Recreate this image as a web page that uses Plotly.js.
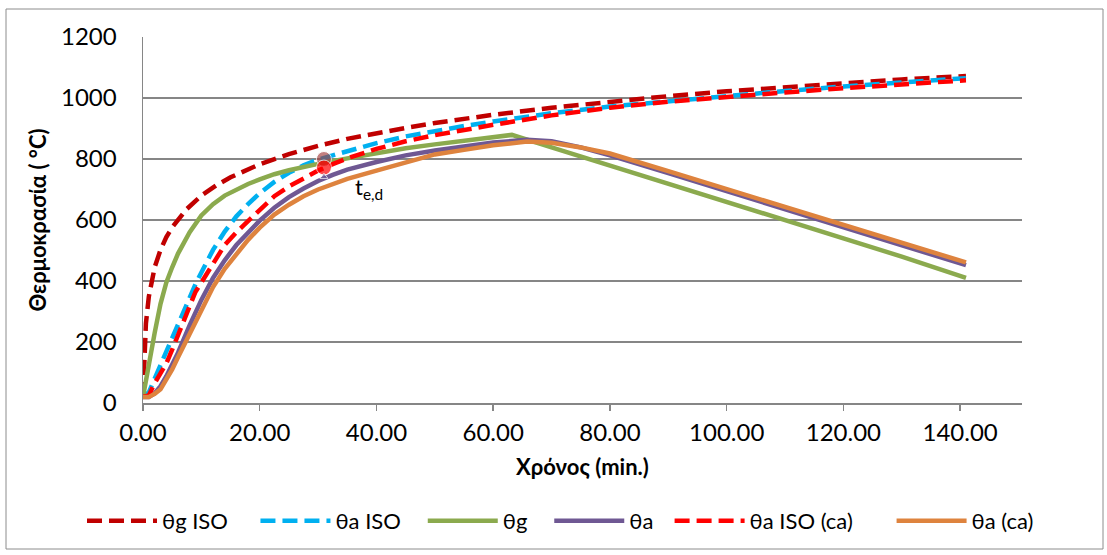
<!DOCTYPE html>
<html>
<head>
<meta charset="utf-8">
<script src="https://cdn.plot.ly/plotly-3.0.1.min.js"></script>
<style>
html,body{margin:0;padding:0;background:#fff;}
#chart{width:1107px;height:555px;}
</style>
</head>
<body>
<div id="chart"></div>
<script>
// ---- data ----
var seriesNames = ["θg ISO", "θa ISO", "θg", "θa", "θa ISO (ca)", "θa (ca)"];

var tGisoTimes = [0, 0.25, 0.5, 1, 2, 3, 4, 5, 7.5, 10, 12.5, 15, 17.5, 20, 25, 30, 35, 40, 45, 50, 55, 60, 70, 80, 90, 100, 110, 120, 130, 141];
var tGisoTemps = [20, 185, 261, 349, 445, 502, 544, 576, 636, 680, 713, 740, 763, 783, 816, 843, 866, 885, 902, 918, 932, 945, 968, 988, 1006, 1022, 1036, 1049, 1061, 1072];

var tAisoTimes = [0, 1, 2, 3, 4, 5, 6, 7, 8, 9, 10, 12, 14, 16, 18, 20, 22.5, 25, 27.5, 30, 32.5, 35, 40, 45, 50, 55, 60, 70, 80, 90, 100, 110, 120, 130, 141];
var tAisoTemps = [20, 35, 80, 125, 174, 218, 262, 308, 350, 390, 428, 502, 562, 612, 652, 688, 725, 755, 779, 798, 812, 826, 852, 874, 892, 908, 923, 950, 972, 990, 1007, 1023, 1038, 1051, 1065];

var tGTimes = [0, 0.5, 1, 2, 3, 4, 5, 6, 7, 8, 10, 12, 14, 16, 18, 20, 22.5, 25, 27.5, 30, 35, 40, 45, 50, 55, 60, 63.2, 70, 80, 90, 100, 110, 120, 130, 141];
var tGTemps = [20, 75, 130, 230, 325, 395, 445, 490, 525, 560, 615, 652, 680, 700, 718, 733, 750, 763, 774, 784, 802, 820, 835, 848, 860, 870, 879, 838, 779, 719, 659, 600, 540, 480, 410];

var tATimes = [0, 1, 2, 3, 4, 5, 6, 8, 10, 12, 14, 16, 18, 20, 22.5, 25, 27.5, 30, 32.5, 35, 40, 45, 50, 55, 60, 65.8, 70, 75, 80, 90, 100, 110, 120, 130, 141];
var tATemps = [20, 20, 32, 55, 88, 125, 165, 255, 338, 410, 468, 518, 560, 598, 640, 675, 703, 728, 748, 765, 790, 812, 828, 842, 854, 863, 858, 838, 812, 754, 695, 636, 576, 517, 452];

var tAisoCaTimes = [0, 1, 2, 3, 4, 5, 6, 7, 8, 9, 10, 12, 14, 16, 18, 20, 22.5, 25, 27.5, 30, 32.5, 35, 40, 45, 50, 55, 60, 70, 80, 90, 100, 110, 120, 130, 141];
var tAisoCaTemps = [20, 25, 65, 100, 130, 175, 225, 275, 325, 365, 395, 458, 518, 560, 595, 632, 678, 710, 737, 762, 783, 802, 833, 858, 878, 896, 912, 943, 968, 988, 1004, 1018, 1032, 1045, 1058];

var tACaTimes = [0, 1, 1.5, 2, 3, 4, 5, 6, 8, 10, 12, 14, 16, 18, 20, 22.5, 25, 27.5, 30, 32.5, 35, 40, 45, 50, 55, 60, 65.8, 70, 75, 80, 90, 100, 110, 120, 130, 141];
var tACaTemps = [20, 20, 25, 30, 45, 75, 110, 150, 228, 305, 380, 440, 490, 535, 575, 618, 650, 678, 700, 717, 735, 762, 790, 815, 830, 845, 857, 853, 838, 818, 760, 702, 643, 585, 526, 461];

// critical time markers (t_e,d)
var markTimes = [31, 31, 31];
var markTemps = [800, 772, 742];
var markLabel = "t<sub>e,d</sub>";
var markLabelPos = [38.8, 705];

var xTickVals = [0, 20, 40, 60, 80, 100, 120, 140];
var xTickText = ["0.00", "20.00", "40.00", "60.00", "80.00", "100.00", "120.00", "140.00"];
var yTickVals = [0, 200, 400, 600, 800, 1000, 1200];

var xTitle = "Χρόνος (min.)";
var yTitle = "Θερμοκρασία ( °C)";

// ---- styles ----
var FONT = "Lato, 'Open Sans', sans-serif";
var dashPat = "15px,7px";
var NB = "\u00a0";
function pad(s, n) { var r = s; for (var i = 0; i < n; i++) r += NB; return r; }
var legendPad = [4, 3, 3, 2, 6, 0];

function tr(x, y, i, color, dash) {
  return {
    x: x, y: y, name: pad(seriesNames[i], legendPad[i]), type: "scatter", mode: "lines",
    line: {color: color, width: 4.5, dash: dash || "solid"},
    hoverinfo: "skip"
  };
}

var data = [
  tr(tGisoTimes, tGisoTemps, 0, "#C00000", dashPat),
  tr(tAisoTimes, tAisoTemps, 1, "#00B0F0", dashPat),
  tr(tGTimes, tGTemps, 2, "#8BAA4E"),
  tr(tATimes, tATemps, 3, "#6F5893"),
  tr(tAisoCaTimes, tAisoCaTemps, 4, "#FF0000", dashPat),
  tr(tACaTimes, tACaTemps, 5, "#DE833E"),
  {
    x: markTimes, y: markTemps, type: "scatter", mode: "markers", showlegend: false,
    hoverinfo: "skip",
    marker: {size: [15, 15, 7], color: ["rgba(163,60,60,0.92)", "#FF0000", "#6F5893"], symbol: ["circle", "circle", "triangle-up"]}
  }
];

var PL = 143, PR = 1022, PT = 37, PB = 403, W = 1107, H = 555;
var pw = PR - PL, ph = PB - PT;
function px(xp) { return (xp - PL) / pw; }
function py(yp) { return (PB - yp) / ph; }

var layout = {
  width: W, height: H,
  margin: {l: PL, r: W - PR, t: PT, b: H - PB, pad: 0},
  paper_bgcolor: "#ffffff",
  plot_bgcolor: "#ffffff",
  font: {family: FONT, size: 22, color: "#000000"},
  showlegend: true,
  xaxis: {
    range: [0, 150.6],
    tickvals: xTickVals, ticktext: xTickText,
    showgrid: false, zeroline: false,
    showline: true, linecolor: "#868686", linewidth: 1.5,
    ticks: "outside", ticklen: 6, tickcolor: "#868686", tickwidth: 1.5,
    tickfont: {family: FONT, size: 24, color: "#000"},
    ticklabelstandoff: 2,
    title: {text: "<b>" + xTitle + "</b>", font: {family: FONT, size: 22, color: "#000"}, standoff: 14},
    fixedrange: true
  },
  yaxis: {
    range: [0, 1200],
    tickvals: yTickVals,
    showgrid: true, gridcolor: "#868686", gridwidth: 1.5,
    zeroline: false,
    showline: true, linecolor: "#868686", linewidth: 1.5,
    ticks: "",
    tickfont: {family: FONT, size: 24, color: "#000"},
    ticklabelstandoff: 20,
    title: {text: "<b>" + yTitle + "</b>", font: {family: FONT, size: 22, color: "#000"}, standoff: 8},
    fixedrange: true
  },
  legend: {
    orientation: "h",
    x: px(82), xanchor: "left",
    y: py(521), yanchor: "middle",
    font: {family: FONT, size: 22, color: "#000"},
    itemwidth: 70,
    bgcolor: "rgba(0,0,0,0)",
    traceorder: "normal"
  },
  annotations: [{
    x: markLabelPos[0], y: markLabelPos[1], xref: "x", yref: "y",
    text: markLabel, showarrow: false,
    font: {family: FONT, size: 22, color: "#000"},
    xanchor: "center", yanchor: "middle"
  }],
  shapes: [{
    type: "rect", xref: "paper", yref: "paper",
    x0: px(6), x1: px(1103), y0: py(549), y1: py(9),
    line: {color: "#8C8C8C", width: 1}, fillcolor: "rgba(0,0,0,0)", layer: "below"
  }]
};

Plotly.newPlot("chart", data, layout, {displayModeBar: false, staticPlot: true});
</script>
</body>
</html>
